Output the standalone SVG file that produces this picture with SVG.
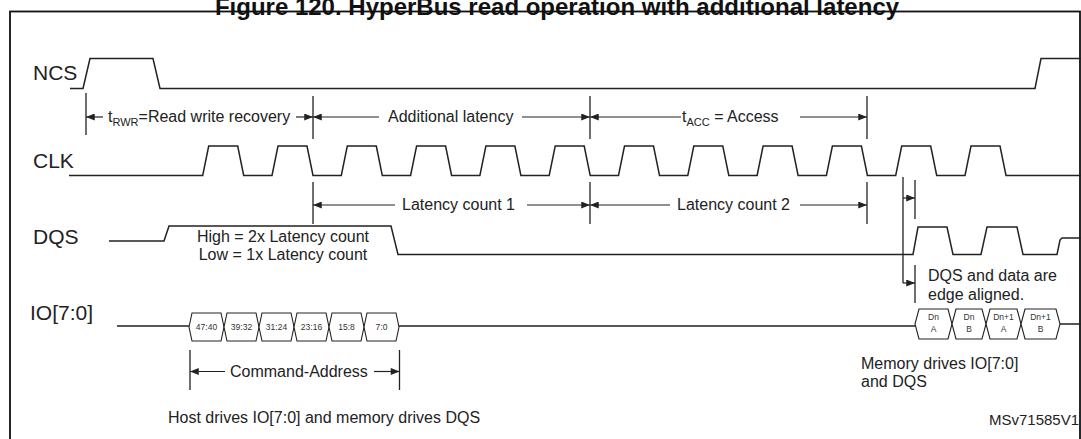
<svg xmlns="http://www.w3.org/2000/svg" width="1081" height="439" viewBox="0 0 1081 439">
<defs>
<marker id="ah" viewBox="0 0 10 8" refX="10" refY="4" markerWidth="10" markerHeight="7" markerUnits="userSpaceOnUse" orient="auto-start-reverse"><path d="M0,0 L10,4 L0,8 Z" fill="#222"/></marker>
</defs>
<style>
.w{fill:none;stroke:#222;stroke-width:1.5}
.t{fill:none;stroke:#222;stroke-width:1.3}
.a{fill:none;stroke:#222;stroke-width:1.2}
.lab{font-family:"Liberation Sans",Arial,sans-serif;font-size:21px;fill:#222}
.txt{font-family:"Liberation Sans",Arial,sans-serif;font-size:16px;fill:#222}
.sub{font-size:11px}
.box{fill:#fff;stroke:#222;stroke-width:1.1}
.bt{font-family:"Liberation Sans",Arial,sans-serif;font-size:8.5px;fill:#333;text-anchor:middle}
</style>
<rect width="1081" height="439" fill="#fff"/>
<text x="557" y="15" text-anchor="middle" style="font-family:'Liberation Sans',Arial,sans-serif;font-size:24px;font-weight:bold" fill="#111">Figure 120. HyperBus read operation with additional latency</text>
<rect x="10" y="11.5" width="1070" height="440" fill="none" stroke="#111" stroke-width="1.8"/>

<g id="NCS">
<text class="lab" x="33" y="80">NCS</text>
<path class="w" d="M70,88.5 L83,88.5 L90,58.5 L153,58.5 L160,88.5 L1035,88.5 L1041,58.5 L1081,58.5"/>
</g>
<g id="CLK">
<text class="lab" x="33" y="168">CLK</text>
<path class="w" d="M69,175.5 L202.7,175.5 L208.7,146 L237.7,146 L243.7,175.5 L272,175.5 L278,146 L307,146 L313,175.5 L341.3,175.5 L347.3,146 L376.3,146 L382.3,175.5 L410.6,175.5 L416.6,146 L445.6,146 L451.6,175.5 L479.9,175.5 L485.9,146 L514.9,146 L520.9,175.5 L549.2,175.5 L555.2,146 L584.2,146 L590.2,175.5 L618.5,175.5 L624.5,146 L653.5,146 L659.5,175.5 L687.8,175.5 L693.8,146 L722.8,146 L728.8,175.5 L757.1,175.5 L763.1,146 L792.1,146 L798.1,175.5 L826.4,175.5 L832.4,146 L861.4,146 L867.4,175.5 L895.7,175.5 L901.7,146 L930.7,146 L936.7,175.5 L965,175.5 L971,146 L1000,146 L1006,175.5 L1081,175.5"/>
</g>
<g id="DQS">
<text class="lab" x="33" y="244">DQS</text>
<path class="w" d="M109,241 L164,241 L169,226 L391,226 L398,254.5 L913,254.5 L918,227 L947,227 L953,254.5 L981,254.5 L987,227 L1017,227 L1023,254.5 L1057,254.5 L1060,240 L1062,238 L1081,238"/>
<text class="txt" x="283" y="242" text-anchor="middle">High = 2x Latency count</text>
<text class="txt" x="283" y="260" text-anchor="middle">Low = 1x Latency count</text>
</g>
<g id="IO">
<text class="lab" x="30" y="320">IO[7:0]</text>
<path class="w" d="M117,326 L189,326 M399,326 L915,326 M1060,324 L1081,324"/>
<g>
<polygon class="box" points="189,327 192,313 221,313 224,327 221,341 192,341"/>
<polygon class="box" points="224,327 227,313 256,313 259,327 256,341 227,341"/>
<polygon class="box" points="259,327 262,313 291,313 294,327 291,341 262,341"/>
<polygon class="box" points="294,327 297,313 326,313 329,327 326,341 297,341"/>
<polygon class="box" points="329,327 332,313 361,313 364,327 361,341 332,341"/>
<polygon class="box" points="364,327 367,313 396,313 399,327 396,341 367,341"/>
<text class="bt" x="206.5" y="330">47:40</text>
<text class="bt" x="241.5" y="330">39:32</text>
<text class="bt" x="276.5" y="330">31:24</text>
<text class="bt" x="311.5" y="330">23:16</text>
<text class="bt" x="346.5" y="330">15:8</text>
<text class="bt" x="381.5" y="330">7:0</text>
</g>
<g>
<polygon class="box" points="915,324 919,309 948,309 952,324 948,339 919,339"/>
<polygon class="box" points="952,324 956,309 982,309 986,324 982,339 956,339"/>
<polygon class="box" points="986,324 990,309 1017,309 1021,324 1017,339 990,339"/>
<polygon class="box" points="1021,324 1025,309 1056,309 1060,324 1056,339 1025,339"/>
<text class="bt" x="933.5" y="320">Dn</text><text class="bt" x="933.5" y="332">A</text>
<text class="bt" x="969" y="320">Dn</text><text class="bt" x="969" y="332">B</text>
<text class="bt" x="1003.5" y="320">Dn+1</text><text class="bt" x="1003.5" y="332">A</text>
<text class="bt" x="1040.5" y="320">Dn+1</text><text class="bt" x="1040.5" y="332">B</text>
</g>
</g>

<g id="connectors">
<path class="t" d="M86,93 V135 M313,96 V139 M590,96 V139 M867,96 V139"/>
<path class="t" d="M313,182 V224 M590,182 V224 M867,182 V224"/>
<path class="t" d="M903,177 V283 M915,180 V219 M915,265 V303"/>
<path class="t" d="M190,350 V390 M399.5,350 V390"/>
<path class="a" d="M103,117 H86" marker-end="url(#ah)"/>
<path class="a" d="M296,117 H313" marker-end="url(#ah)"/>
<path class="a" d="M379,117 H313" marker-end="url(#ah)"/>
<path class="a" d="M522,117 H590" marker-end="url(#ah)"/>
<path class="a" d="M681,117 H590" marker-end="url(#ah)"/>
<path class="a" d="M800,117 H867" marker-end="url(#ah)"/>
<path class="a" d="M395,205 H313" marker-end="url(#ah)"/>
<path class="a" d="M527,205 H590" marker-end="url(#ah)"/>
<path class="a" d="M670,205 H590" marker-end="url(#ah)"/>
<path class="a" d="M800,205 H867" marker-end="url(#ah)"/>
<path class="a" d="M903,198 H915" marker-end="url(#ah)"/>
<path class="a" d="M903,283 H915" marker-end="url(#ah)"/>
<path class="a" d="M225,371.5 H190" marker-end="url(#ah)"/>
<path class="a" d="M374,371.5 H399.5" marker-end="url(#ah)"/>
</g>

<g id="labels">
<text class="txt" x="108" y="122">t<tspan class="sub" dy="4">RWR</tspan><tspan dy="-4">=Read write recovery</tspan></text>
<text class="txt" x="388" y="122">Additional latency</text>
<text class="txt" x="682" y="122">t<tspan class="sub" dy="4">ACC</tspan><tspan dy="-4"> = Access</tspan></text>
<text class="txt" x="402" y="210">Latency count 1</text>
<text class="txt" x="677" y="210">Latency count 2</text>
<text class="txt" x="928" y="281">DQS and data are</text>
<text class="txt" x="928" y="300">edge aligned.</text>
<text class="txt" x="230" y="377">Command-Address</text>
<text class="txt" x="168" y="423">Host drives IO[7:0] and memory drives DQS</text>
<text class="txt" x="861" y="369">Memory drives IO[7:0]</text>
<text class="txt" x="861" y="387">and DQS</text>
<text class="txt" x="989" y="425" style="font-size:15px">MSv71585V1</text>
</g>
</svg>
